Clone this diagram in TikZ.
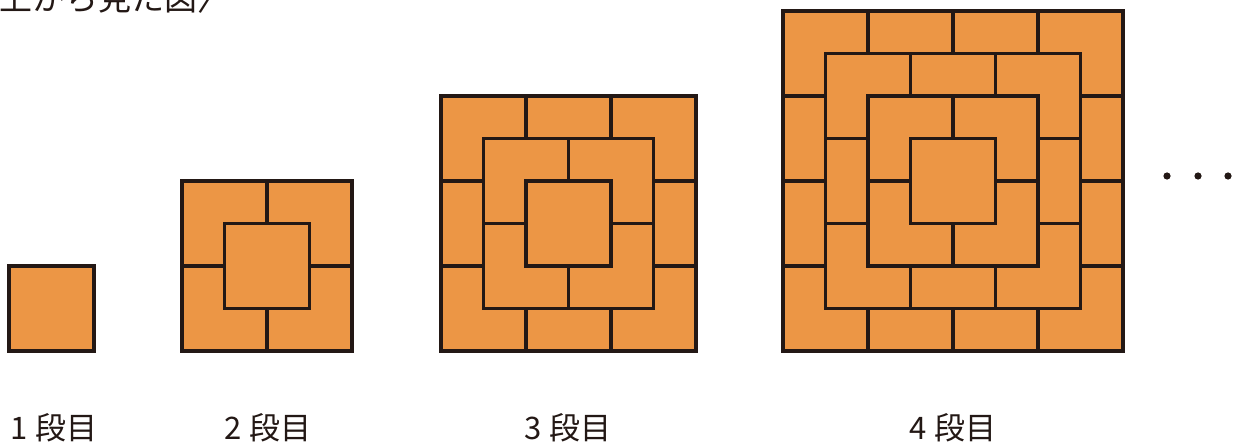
\documentclass[tikz,border=0pt]{standalone}
\usepackage{fontspec}
\usepackage{xcolor}
\usepackage{tikz}
\usetikzlibrary{positioning}
\newfontfamily\jpfont{Noto Sans CJK JP}
\definecolor{tileorange}{RGB}{236,150,69}
\definecolor{inkblack}{RGB}{35,24,21}

\begin{document}
\begin{tikzpicture}[
  x=1pt, y=-1pt,
  tile/.style={draw=inkblack, fill=tileorange, line width=3.2pt, line join=miter},
  lbl/.style={anchor=base, inner sep=0pt, text=inkblack, font=\jpfont\fontsize{31pt}{31pt}\selectfont},
  ttl/.style={anchor=base west, inner sep=0pt, text=inkblack, font=\jpfont\fontsize{33pt}{33pt}\selectfont},
  dot/.style={fill=inkblack}
]
\useasboundingbox (0,0) rectangle (1242,446);

% stacks seen from above: bottom layer first, each upper layer shifted by half a tile
\foreach \n/\xo in {1/9, 2/182, 3/441, 4/783} {
  \foreach \k in {\n,...,1} {
    \pgfmathsetmacro\off{(\n-\k)*42.5}
    \foreach \i in {1,...,\k}
      \foreach \j in {1,...,\k}
        \draw[tile] ({\xo+\off+(\i-1)*85}, {351-\n*85+\off+(\j-1)*85}) rectangle ++(85,85);
  }
}

\node[ttl] (title) at (-1,10.5) {上から見た図〉};

\node[lbl] (lab1) at (54,439) {1 段目};
\node[lbl] (lab2) at (268,439) {2 段目};
\node[lbl] (lab3) at (568,439) {3 段目};
\node[lbl] (lab4) at (953,439) {4 段目};

\foreach \x in {1167,1198,1228}
  \fill[dot] (\x,176) circle (3.6);
\end{tikzpicture}
\end{document}
